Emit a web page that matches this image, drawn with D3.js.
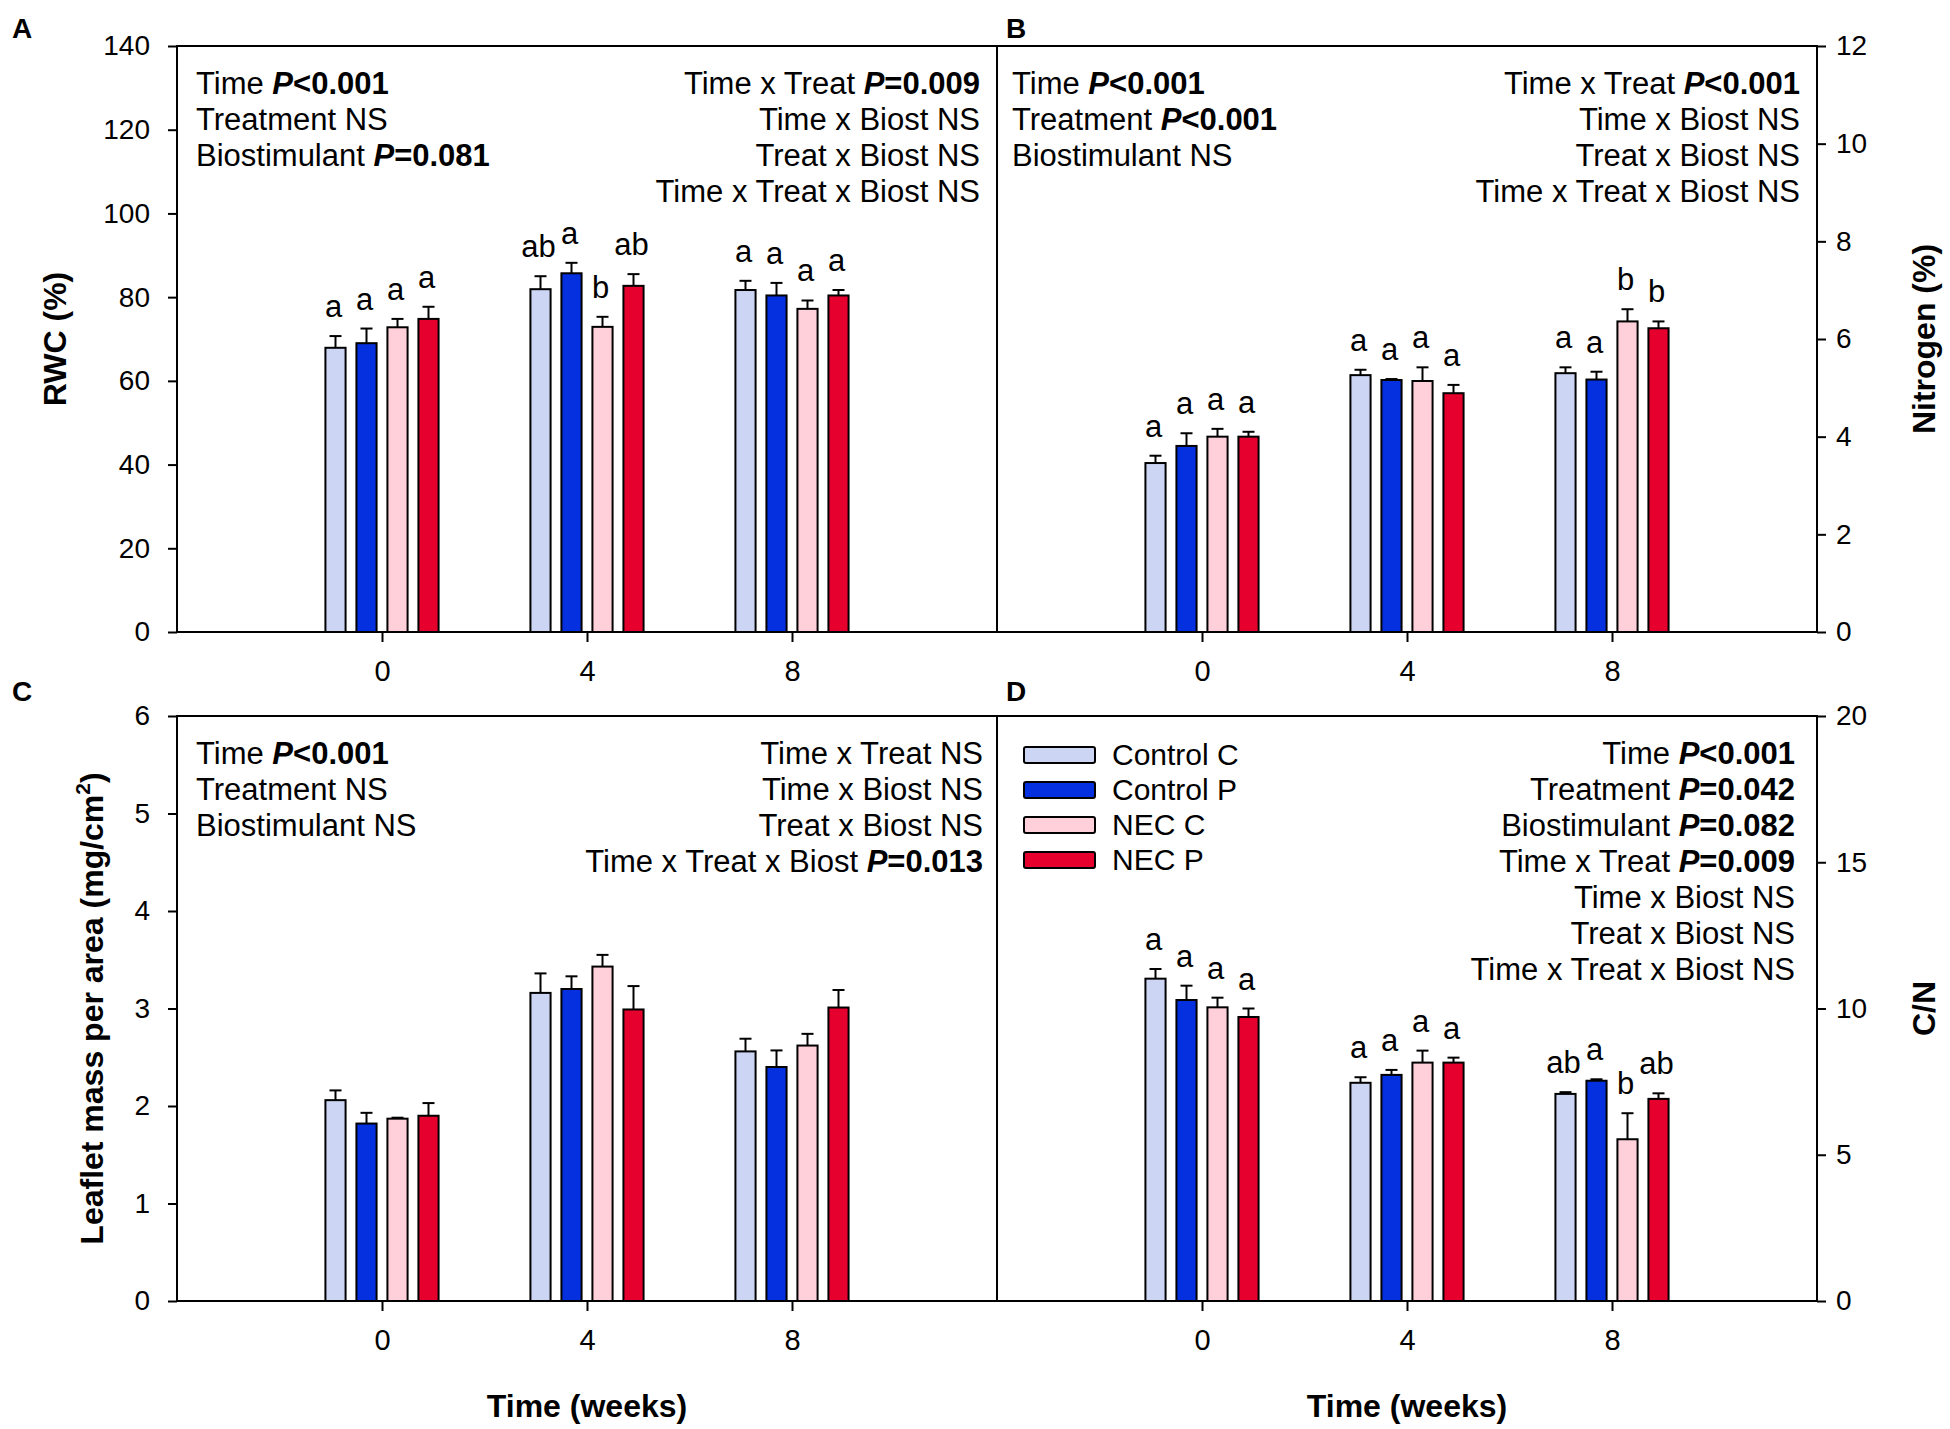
<!DOCTYPE html>
<meta charset="utf-8">
<style>
    body { margin: 0; background: #fff; }
    svg text { font-family: "Liberation Sans", Arial, sans-serif; fill: #000; }
    .tick text { font-size: 28px; }
    .xaxis .tick text { font-size: 29px; }
    .axis-title { font-size: 32px; font-weight: bold; }
    .note { font-size: 31px; }
    .letter { font-size: 31px; text-anchor: middle; }
    .legend text { font-size: 30px; }
</style>
<svg></svg>
<script src="https://d3js.org/d3.v7.min.js"></script>
<script>

    var width = 1950,
        height = 1429;

    var svg = d3.select("svg")
        .attr("width", width)
        .attr("height", height);

    // data
    var weeks = [0, 4, 8];
    var groups = ["Control C", "Control P", "NEC C", "NEC P"];
    var colors = ["#ccd6f4", "#0530e0", "#ffd0da", "#e6002e"];

    var rwcMean = [[67.9, 69.0, 72.8, 74.8], [81.9, 85.7, 72.9, 82.7], [81.7, 80.4, 77.2, 80.4]];
    var rwcErr = [[2.8, 3.5, 2.0, 2.9], [3.1, 2.5, 2.4, 2.8], [2.2, 3.0, 2.0, 1.3]];
    var rwcLetters = [["a", "a", "a", "a"], ["ab", "a", "b", "ab"], ["a", "a", "a", "a"]];

    var nMean = [[3.46, 3.81, 4.0, 4.0], [5.26, 5.16, 5.14, 4.89], [5.30, 5.17, 6.36, 6.22]];
    var nErr = [[0.15, 0.26, 0.16, 0.10], [0.11, 0.02, 0.28, 0.17], [0.12, 0.16, 0.25, 0.14]];
    var nLetters = [["a", "a", "a", "a"], ["a", "a", "a", "a"], ["a", "a", "b", "b"]];

    var lmaMean = [[2.06, 1.82, 1.87, 1.90], [3.16, 3.20, 3.43, 2.99], [2.56, 2.40, 2.62, 3.01]];
    var lmaErr = [[0.10, 0.11, 0.01, 0.13], [0.20, 0.13, 0.12, 0.24], [0.13, 0.17, 0.12, 0.18]];

    var cnMean = [[11.02, 10.29, 10.04, 9.71], [7.46, 7.73, 8.15, 8.15], [7.08, 7.53, 5.53, 6.91]];
    var cnErr = [[0.33, 0.49, 0.33, 0.29], [0.19, 0.17, 0.41, 0.17], [0.06, 0.05, 0.89, 0.19]];
    var cnLetters = [["a", "a", "a", "a"], ["a", "a", "a", "a"], ["ab", "a", "b", "ab"]];

    var rwcTicks = [0, 20, 40, 60, 80, 100, 120, 140];
    var nTicks = [0, 2, 4, 6, 8, 10, 12];
    var lmaTicks = [0, 1, 2, 3, 4, 5, 6];
    var cnTicks = [0, 5, 10, 15, 20];

    // statistics text: [label, P value] (null = NS)
    var notesA1 = [["Time", "<0.001"], ["Treatment", null], ["Biostimulant", "=0.081"]];
    var notesA2 = [["Time x Treat", "=0.009"], ["Time x Biost", null], ["Treat x Biost", null], ["Time x Treat x Biost", null]];
    var notesB1 = [["Time", "<0.001"], ["Treatment", "<0.001"], ["Biostimulant", null]];
    var notesB2 = [["Time x Treat", "<0.001"], ["Time x Biost", null], ["Treat x Biost", null], ["Time x Treat x Biost", null]];
    var notesC1 = [["Time", "<0.001"], ["Treatment", null], ["Biostimulant", null]];
    var notesC2 = [["Time x Treat", null], ["Time x Biost", null], ["Treat x Biost", null], ["Time x Treat x Biost", "=0.013"]];
    var notesD2 = [["Time", "<0.001"], ["Treatment", "=0.042"], ["Biostimulant", "=0.082"], ["Time x Treat", "=0.009"],
        ["Time x Biost", null], ["Treat x Biost", null], ["Time x Treat x Biost", null]];

    var panels = [
        { id: "A", x0: 177, x1: 997, y0: 46, y1: 632, side: "left", max: 140, ticks: rwcTicks,
          mean: rwcMean, err: rwcErr, letters: rwcLetters, title: "RWC (%)", tx: 55,
          left: notesA1, right: notesA2, lx: 196, rx: 980, ly: 38 },
        { id: "B", x0: 997, x1: 1817, y0: 46, y1: 632, side: "right", max: 12, ticks: nTicks,
          mean: nMean, err: nErr, letters: nLetters, title: "Nitrogen (%)", tx: 1924,
          left: notesB1, right: notesB2, lx: 1012, rx: 1800, ly: 38 },
        { id: "C", x0: 177, x1: 997, y0: 716, y1: 1301, side: "left", max: 6, ticks: lmaTicks,
          mean: lmaMean, err: lmaErr, letters: null, title: "Leaflet mass per area (mg/cm", tx: 92,
          left: notesC1, right: notesC2, lx: 196, rx: 983, ly: 701 },
        { id: "D", x0: 997, x1: 1817, y0: 716, y1: 1301, side: "right", max: 20, ticks: cnTicks,
          mean: cnMean, err: cnErr, letters: cnLetters, title: "C/N", tx: 1924,
          left: null, right: notesD2, lx: 1012, rx: 1795, ly: 701 }
    ];

    var inner = d3.scaleBand().domain(groups).range([-62, 62]).paddingInner(0.35).paddingOuter(0.175);

    function writeNotes(g, lines, x, y0, anchor) {
        lines.forEach(function (l, i) {
            var t = g.append("text").attr("class", "note")
                .attr("x", x).attr("y", y0 + i * 36)
                .attr("text-anchor", anchor);
            t.append("tspan").text(l[0] + " ");
            if (l[1] === null) {
                t.append("tspan").text("NS");
            } else {
                t.append("tspan").attr("font-weight", "bold").attr("font-style", "italic").text("P");
                t.append("tspan").attr("font-weight", "bold").text(l[1]);
            }
        });
    }

    panels.forEach(function (p) {
        var g = svg.append("g");
        var x = d3.scaleLinear().domain([-4, 12]).range([p.x0, p.x1]);
        var y = d3.scaleLinear().domain([0, p.max]).range([p.y1, p.y0]);

        // y axis
        var yAxis = (p.side === "left" ? d3.axisLeft(y).tickPadding(18) : d3.axisRight(y).tickPadding(10))
            .tickValues(p.ticks).tickFormat(d3.format("d")).tickSize(9).tickSizeOuter(0);
        g.append("g")
            .attr("transform", "translate(" + (p.side === "left" ? p.x0 : p.x1) + ",0)")
            .call(yAxis)
            .call(function (a) { a.select(".domain").remove(); })
            .selectAll("line").attr("stroke-width", 2);

        // x axis
        g.append("g").attr("class", "xaxis")
            .attr("transform", "translate(0," + p.y1 + ")")
            .call(d3.axisBottom(x).tickValues(weeks).tickSize(10).tickSizeOuter(0).tickPadding(18))
            .call(function (a) { a.select(".domain").remove(); })
            .selectAll("line").attr("stroke-width", 2);

        // bars
        weeks.forEach(function (w, wi) {
            var cx = x(w);
            groups.forEach(function (gr, gi) {
                var m = p.mean[wi][gi], e = p.err[wi][gi];
                var bx = cx + inner(gr), bw = inner.bandwidth();
                var mid = bx + bw / 2;
                g.append("line")
                    .attr("x1", mid).attr("x2", mid)
                    .attr("y1", y(m)).attr("y2", y(m + e))
                    .attr("stroke", "#000").attr("stroke-width", 2);
                g.append("line")
                    .attr("x1", mid - 6).attr("x2", mid + 6)
                    .attr("y1", y(m + e)).attr("y2", y(m + e))
                    .attr("stroke", "#000").attr("stroke-width", 2);
                g.append("rect")
                    .attr("x", bx).attr("width", bw)
                    .attr("y", y(m)).attr("height", y(0) - y(m))
                    .attr("fill", colors[gi]).attr("stroke", "#000").attr("stroke-width", 2);
                if (p.letters) {
                    g.append("text").attr("class", "letter")
                        .attr("x", mid - 2).attr("y", y(m + e) - 19)
                        .text(p.letters[wi][gi]);
                }
            });
        });

        // frame
        g.append("rect")
            .attr("x", p.x0).attr("y", p.y0)
            .attr("width", p.x1 - p.x0).attr("height", p.y1 - p.y0)
            .attr("fill", "none").attr("stroke", "#000").attr("stroke-width", 2);

        // panel letter
        g.append("text")
            .attr("x", p.x0 === 177 ? 12 : 1006).attr("y", p.ly)
            .attr("font-size", 28).attr("font-weight", "bold")
            .text(p.id);

        // axis title
        var cy = (p.y0 + p.y1) / 2;
        var tt = g.append("text").attr("class", "axis-title")
            .attr("text-anchor", "middle")
            .attr("transform", "translate(" + p.tx + "," + cy + ") rotate(-90)")
            .attr("dy", "0.35em")
            .text(p.title);
        if (p.id === "C") {
            tt.append("tspan").attr("font-size", 21).attr("dy", -13).text("2");
            tt.append("tspan").attr("dy", 13).text(")");
        }

        if (p.left) writeNotes(g, p.left, p.lx, p.y0 + 48, "start");
        if (p.right) writeNotes(g, p.right, p.rx, p.y0 + 48, "end");

        if (p.y0 > 600) {
            g.append("text").attr("class", "axis-title")
                .attr("x", x(4)).attr("y", 1417)
                .attr("text-anchor", "middle")
                .text("Time (weeks)");
        }
    });

    // legend in panel D
    var legend = svg.append("g").attr("class", "legend");
    groups.forEach(function (gr, i) {
        var yy = 755 + i * 35;
        legend.append("rect")
            .attr("x", 1024).attr("y", yy - 8)
            .attr("width", 71).attr("height", 16).attr("rx", 2)
            .attr("fill", colors[i]).attr("stroke", "#000").attr("stroke-width", 2);
        legend.append("text")
            .attr("x", 1112).attr("y", yy + 10)
            .text(gr);
    });

</script>
